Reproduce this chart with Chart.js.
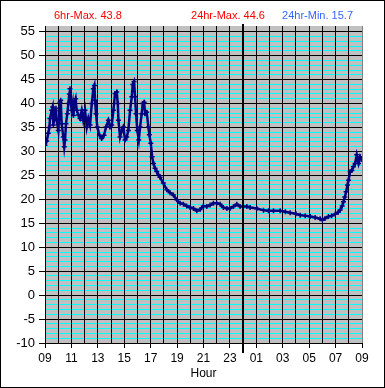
<!DOCTYPE html>
<html>
<head>
<meta charset="utf-8">
<script src="https://cdn.jsdelivr.net/npm/chart.js@4/dist/chart.umd.min.js"></script>
<style>
  body { margin: 0; background: #fff; }
  #wrap { width: 385px; height: 388px; }
</style>
</head>
<body>
<div id="wrap"><canvas id="chart" width="385" height="388"></canvas></div>
<script>
// hours since 09:00
const hours = [
  0.00, 0.13, 0.25, 0.33, 0.38, 0.51, 0.58, 0.63, 0.76, 0.83, 0.88, 1.01, 1.14, 1.19, 1.26, 1.39,
  1.46, 1.52, 1.59, 1.69, 1.77, 1.84, 1.89, 1.94, 2.02, 2.10, 2.15, 2.22, 2.32, 2.40, 2.53, 2.65,
  2.78, 2.90, 3.03, 3.16, 3.28, 3.41, 3.54, 3.66, 3.74, 3.79, 3.86, 3.96, 4.12, 4.29, 4.47, 4.62,
  4.80, 4.92, 5.05, 5.18, 5.30, 5.43, 5.51, 5.56, 5.68, 5.81, 5.93, 6.06, 6.19, 6.31, 6.44, 6.57,
  6.64, 6.74, 6.82, 6.89, 6.99, 7.10, 7.20, 7.32, 7.40, 7.50, 7.58, 7.70, 7.83, 7.90, 8.01, 8.11,
  8.21, 8.33, 8.46, 8.59, 8.71, 8.96, 9.22, 9.47, 9.72, 9.97, 10.23, 10.48, 10.73, 10.98, 11.24, 11.49,
  11.74, 11.99, 12.25, 12.50, 12.75, 13.00, 13.26, 13.50, 13.77, 14.00, 14.27, 14.52, 14.77, 15.28, 15.53, 16.04,
  16.54, 16.92, 17.30, 17.80, 18.20, 18.56, 19.00, 19.32, 19.70, 20.08, 20.45, 20.83, 21.00, 21.20, 21.46, 21.70,
  21.97, 22.20, 22.35, 22.50, 22.60, 22.70, 22.80, 22.90, 22.98, 23.10, 23.23, 23.35, 23.48, 23.60, 23.74, 23.86,
  23.95
];
const temps = [
  31.3, 32.2, 33.8, 35.0, 36.9, 38.6, 39.3, 35.5, 38.5, 39.0, 36.5, 34.4, 40.3, 40.7, 35.8, 33.0,
  31.0, 32.4, 35.8, 37.9, 40.0, 42.0, 43.1, 40.7, 38.6, 40.0, 37.5, 40.0, 41.0, 38.6, 37.6, 36.9,
  38.6, 36.5, 38.6, 35.1, 36.9, 35.5, 40.0, 43.1, 43.8, 40.7, 37.9, 35.1, 33.4, 32.7, 33.4, 35.1,
  36.5, 35.1, 35.5, 38.6, 42.1, 42.4, 40.0, 36.5, 33.0, 34.4, 35.1, 32.4, 33.0, 34.4, 38.6, 41.4,
  44.0, 44.6, 41.4, 37.9, 34.4, 32.4, 35.1, 37.9, 40.0, 40.3, 37.9, 38.2, 35.1, 33.5, 31.7, 28.9,
  27.5, 26.5, 25.8, 25.1, 24.6, 23.4, 22.0, 21.4, 20.9, 19.9, 19.2, 19.0, 18.6, 18.3, 18.1, 17.6,
  17.9, 18.6, 18.5, 18.8, 19.2, 19.2, 19.0, 18.3, 18.1, 18.1, 18.5, 19.0, 18.5, 18.5, 18.3, 18.1,
  17.7, 17.6, 17.6, 17.6, 17.4, 17.2, 17.0, 16.7, 16.6, 16.4, 16.2, 15.96, 15.7, 16.0, 16.4, 16.6,
  16.9, 17.3, 17.8, 18.6, 19.5, 20.5, 21.6, 23.0, 24.0, 25.8, 26.0, 26.8, 27.5, 29.3, 27.5, 28.9,
  28.3
];
const xTickLabels = ['09', '11', '13', '15', '17', '19', '21', '23', '01', '03', '05', '07', '09'];
const headerTexts = ['6hr-Max. 43.8', '24hr-Max. 44.6', '24hr-Min. 15.7'];
const midnightHour = 15;

const points = hours.map((h, i) => ({ x: h, y: temps[i] }));

// gray plot fill, outer frame, header texts, midnight line
const decor = {
  id: 'decor',
  beforeDraw(chart) {
    const { ctx, chartArea: a } = chart;
    ctx.save();
    ctx.fillStyle = '#c0c0c0';
    ctx.fillRect(a.left, a.top, a.right - a.left, a.bottom - a.top);
    ctx.restore();
  },
  afterDatasetsDraw(chart) {
    const { ctx, chartArea: a } = chart;
    const x = Math.round(chart.scales.x.getPixelForValue(midnightHour));
    ctx.save();
    ctx.strokeStyle = '#000';
    ctx.lineWidth = 2;
    ctx.beginPath();
    ctx.moveTo(x, a.top - 2);
    ctx.lineTo(x, a.bottom + 10);
    ctx.stroke();
    ctx.restore();
  },
  afterDraw(chart) {
    const ctx = chart.ctx;
    ctx.save();
    ctx.strokeStyle = '#000';
    ctx.lineWidth = 1;
    ctx.strokeRect(0.5, 0.5, 384, 387);
    ctx.font = '11px "Liberation Sans", Arial, sans-serif';
    ctx.textBaseline = 'alphabetic';
    ctx.textAlign = 'left';
    ctx.fillStyle = '#ff0000';
    ctx.fillText(headerTexts[0], 54, 19);
    ctx.textAlign = 'center';
    ctx.fillText(headerTexts[1], 228, 19);
    ctx.textAlign = 'right';
    ctx.fillStyle = '#3366ff';
    ctx.fillText(headerTexts[2], 353, 19);
    ctx.restore();
  }
};

const ctx = document.getElementById('chart').getContext('2d');
new Chart(ctx, {
  type: 'line',
  data: {
    datasets: [{
      data: points,
      borderColor: '#000080',
      backgroundColor: '#000080',
      borderWidth: 2.5,
      pointStyle: 'cross',
      pointRadius: 2.5,
      pointBorderWidth: 1.5,
      pointBorderColor: '#000080',
      tension: 0
    }]
  },
  options: {
    responsive: false,
    animation: false,
    layout: { padding: { left: 1, right: 23, top: 26, bottom: 0 } },
    plugins: { legend: { display: false }, tooltip: { enabled: false } },
    scales: {
      x: {
        type: 'linear',
        min: 0,
        max: 24,
        afterBuildTicks(scale) {
          const t = [];
          for (let v = 0; v <= 24; v++) t.push({ value: v });
          scale.ticks = t;
        },
        afterFit(scale) {
          scale.height = 45;
          scale.paddingLeft = 0;
          scale.paddingRight = 0;
        },
        ticks: {
          autoSkip: false,
          maxRotation: 0,
          padding: 3,
          color: '#000',
          font: { family: '"Liberation Sans", Arial, sans-serif', size: 12 },
          callback: (v) => (v % 2 === 0 ? xTickLabels[v / 2] : '')
        },
        grid: {
          z: -1,
          color: (c) => (c.tick && c.tick.value === 24 ? '#808080' : '#000'),
          lineWidth: 1,
          tickLength: 5,
          tickColor: (c) => (c.tick && c.tick.value % 2 === 0 ? '#000' : 'rgba(0,0,0,0)')
        },
        border: { color: '#000', width: 1 },
        title: {
          display: true,
          text: 'Hour',
          color: '#000',
          font: { family: '"Liberation Sans", Arial, sans-serif', size: 12 },
          padding: { top: 0, bottom: 7 }
        }
      },
      y: {
        min: -10,
        max: 56.2,
        afterBuildTicks(scale) {
          const t = [];
          for (let v = -10; v <= 55; v++) t.push({ value: v });
          scale.ticks = t;
        },
        afterFit(scale) {
          scale.width = 44;
          scale.paddingTop = 0;
          scale.paddingBottom = 0;
        },
        ticks: {
          autoSkip: false,
          padding: 4,
          color: '#000',
          font: { family: '"Liberation Sans", Arial, sans-serif', size: 13 },
          callback: (v) => (v % 5 === 0 ? String(v) : '')
        },
        grid: {
          z: -2,
          color: (c) => (c.tick && c.tick.value % 5 === 0 ? '#000' : '#00ffff'),
          lineWidth: 1,
          tickLength: 6,
          tickColor: (c) => (c.tick && c.tick.value % 5 === 0 ? '#000' : 'rgba(0,0,0,0)')
        },
        border: { color: '#000', width: 1 }
      }
    }
  },
  plugins: [decor]
});
</script>
</body>
</html>
